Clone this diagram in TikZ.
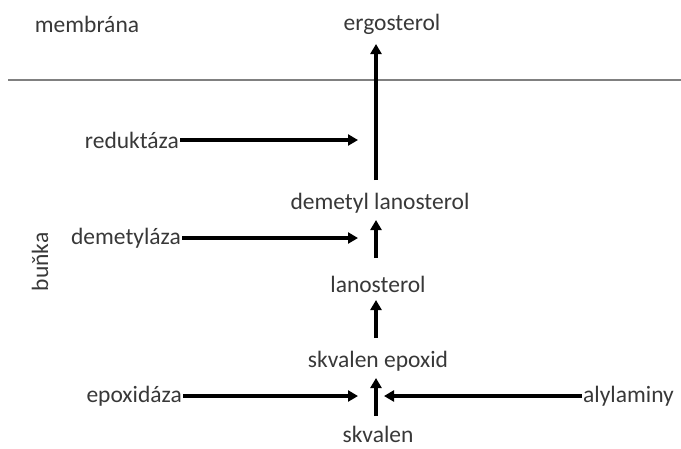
\documentclass[tikz,border=0pt]{standalone}
\usepackage{fontspec}
\setmainfont{Carlito}
\usetikzlibrary{arrows.meta}
\definecolor{txt}{HTML}{383838}
\begin{document}
\begin{tikzpicture}[x=1pt,y=-1pt,
  lbl/.style={inner sep=1pt,text=txt,font=\fontsize{23.5}{26}\selectfont},
  arr/.style={line width=3.4pt,-{Triangle[length=10pt,width=11pt]}},
  mem/.style={line width=2pt,draw=gray}]
\useasboundingbox (0,0) rectangle (681,448);
\node[lbl] (membrana) at (87,24) {membrána};
\node[lbl] (ergo) at (392,24) {ergosterol};
\coordinate (ml) at (8,80);
\coordinate (mr) at (681,80);
\draw[mem] (ml) -- (mr);
\node[lbl] (dml) at (380,203) {demetyl lanosterol};
\node[lbl] (lano) at (378,284) {lanosterol};
\node[lbl] (sqe) at (378,361) {skvalen epoxid};
\node[lbl] (sq) at (378,434) {skvalen};
\node[lbl,anchor=east] (red) at (180,140) {reduktáza};
\node[lbl,anchor=east] (dem) at (182,238) {demetyláza};
\node[lbl,anchor=east] (epo) at (183,396) {epoxidáza};
\node[lbl,anchor=west] (aly) at (582,396) {alylaminy};
\node[lbl,rotate=90] (bunka) at (40,262) {buňka};
\coordinate (rt) at (358,140);
\coordinate (dt) at (358,238);
\coordinate (et) at (358,396);
\coordinate (at) at (384,396);
\coordinate (vtop) at (376,44);
\coordinate (vbot) at (376,180);
\draw[arr] (vbot) -- (vtop);
\draw[arr] (376,258) -- (376,220);
\draw[arr] (376,338) -- (376,300);
\draw[arr] (376,416) -- (376,378);
\draw[arr] (red) -- (rt);
\draw[arr] (dem) -- (dt);
\draw[arr] (epo) -- (et);
\draw[arr] (aly) -- (at);
\end{tikzpicture}
\end{document}
